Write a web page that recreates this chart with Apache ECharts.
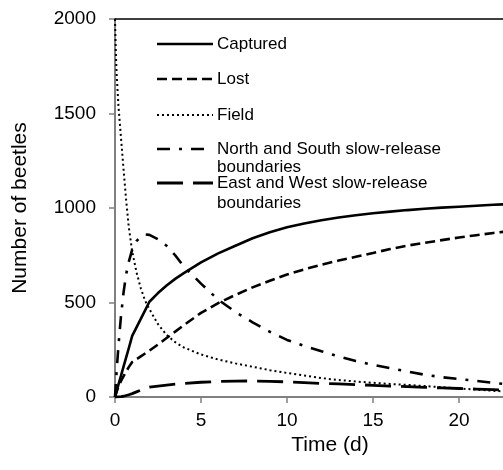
<!DOCTYPE html>
<html>
<head>
<meta charset="utf-8">
<script src="https://cdn.jsdelivr.net/npm/echarts@6/dist/echarts.min.js"></script>
<style>
  html, body { margin: 0; padding: 0; background: #fff; }
  #chart { width: 503px; height: 470px; }
</style>
</head>
<body>
<div id="chart"></div>
<script>
// time points (days)
var days = [0, 0.05, 0.1, 0.2, 0.35, 0.5, 0.65, 0.8, 1, 1.25, 1.5, 1.75, 2, 2.5, 3, 3.5, 4,
  5, 6, 7, 8, 9, 10, 11, 12, 13, 14, 15, 16, 17, 18, 19, 20, 21, 22, 23];

var captured = [0, 16, 32, 65, 113, 162, 210, 258, 323, 368, 413, 458, 504, 550, 590, 625, 655,
  712, 760, 800, 840, 872, 898, 918, 935, 950, 962, 972, 981, 989, 996, 1002, 1007, 1012, 1017, 1021];
var lost = [0, 15, 30, 55, 85, 110, 135, 158, 185, 200, 215, 230, 245, 278, 312, 346, 380,
  445, 497, 540, 580, 615, 648, 675, 700, 722, 742, 762, 783, 801, 816, 830, 844, 856, 868, 878];
var field = [2000, 1820, 1700, 1540, 1370, 1200, 1040, 900, 770, 660, 575, 510, 465, 385, 328, 290, 262,
  225, 198, 178, 160, 142, 127, 114, 100, 90, 82, 75, 69, 64, 58, 52, 45, 39, 33, 27];
var northSouth = [0, 75, 145, 270, 430, 555, 650, 715, 780, 825, 850, 860, 858, 835, 800, 750, 690,
  600, 515, 450, 395, 345, 302, 270, 242, 215, 190, 170, 152, 135, 118, 105, 95, 85, 75, 65];
var eastWest = [0, 0, 0, 1, 2, 4, 8, 12, 18, 27, 36, 44, 52, 58, 63, 68, 72,
  78, 82, 84, 85, 83, 80, 76, 72, 69, 65, 62, 58, 55, 51, 48, 45, 42, 39, 36];

var xTicks = [0, 5, 10, 15, 20];
var yTicks = [0, 500, 1000, 1500, 2000];

var seriesNames = ['Captured', 'Lost', 'Field', 'North and South slow-release\nboundaries', 'East and West slow-release\nboundaries'];
var seriesValues = [captured, lost, field, northSouth, eastWest];
var dashes = ['solid', [10, 5], [2, 3], [13, 9, 3, 9], [26, 10]];
var widths = [2.6, 2.6, 2, 2.6, 2.8];

function pairs(vals) {
  return days.map(function (d, i) { return [d, vals[i]]; });
}

var font = '"Liberation Sans", Arial, sans-serif';
var chart = echarts.init(document.getElementById('chart'));

var series = seriesValues.map(function (vals, i) {
  return {
    name: seriesNames[i],
    type: 'line',
    showSymbol: false,
    animation: false,
    data: pairs(vals),
    lineStyle: { color: '#000', width: widths[i], type: dashes[i] },
    itemStyle: { color: '#000' }
  };
});

// legend drawn by hand, lines on the left and text to the right
var legendY = [44, 79, 115, 149, 183];
var legendGraphics = [];
seriesNames.forEach(function (name, i) {
  legendGraphics.push({
    type: 'line',
    shape: { x1: 157, y1: legendY[i], x2: 213, y2: legendY[i] },
    style: {
      stroke: '#000',
      lineWidth: widths[i],
      lineDash: dashes[i] === 'solid' ? null : dashes[i]
    }
  });
  name.split('\n').forEach(function (line, j) {
    legendGraphics.push({
      type: 'text',
      x: 217,
      y: legendY[i] + j * (i === 3 ? 18 : 20),
      style: { text: line, font: '17px ' + font, fill: '#000', verticalAlign: 'middle' }
    });
  });
});

chart.setOption({
  animation: false,
  // plot runs past the right edge of the window, as in the source figure
  grid: { left: 115, top: 19, height: 378, width: 430, outerBoundsMode: 'none', containLabel: false },
  xAxis: [
    {
      type: 'value',
      min: 0,
      max: 25,
      interval: 5,
      name: 'Time (d)',
      nameLocation: 'middle',
      nameGap: 34,
      nameTextStyle: { fontFamily: font, fontSize: 21, color: '#000' },
      axisLine: { lineStyle: { color: '#808080', width: 2 } },
      axisTick: { length: 6, lineStyle: { color: '#808080', width: 1.5 } },
      axisLabel: {
        margin: 14,
        fontFamily: font,
        fontSize: 19,
        color: '#000',
        formatter: function (v) { return xTicks.indexOf(v) >= 0 ? String(v) : ''; }
      },
      splitLine: { show: false }
    },
    {
      type: 'value',
      position: 'top',
      min: 0,
      max: 25,
      axisLine: { lineStyle: { color: '#000', width: 1.5 } },
      axisTick: { show: false },
      axisLabel: { show: false },
      splitLine: { show: false }
    }
  ],
  yAxis: {
    type: 'value',
    min: 0,
    max: 2000,
    interval: 500,
    name: 'Number of beetles',
    nameLocation: 'middle',
    nameGap: 84,
    nameTextStyle: { fontFamily: font, fontSize: 21, color: '#000' },
    axisLine: { show: true, lineStyle: { color: '#808080', width: 2 } },
    axisTick: { show: true, length: 6, lineStyle: { color: '#808080', width: 1.5 } },
    axisLabel: {
      margin: 19,
      fontFamily: font,
      fontSize: 19,
      color: '#000',
      formatter: function (v) { return yTicks.indexOf(v) >= 0 ? String(v) : ''; }
    },
    splitLine: { show: false }
  },
  series: series,
  graphic: legendGraphics
});
</script>
</body>
</html>
